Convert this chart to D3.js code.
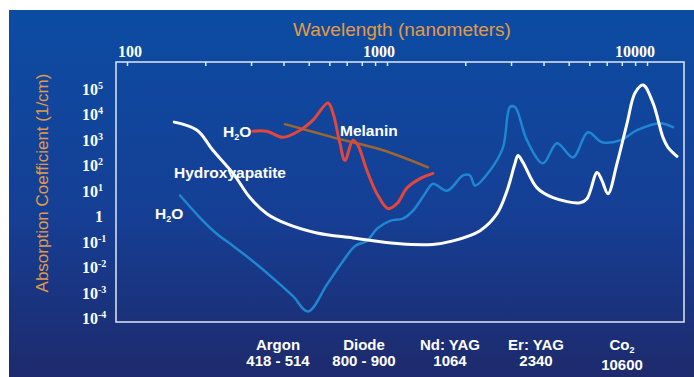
<!DOCTYPE html>
<html>
<head>
<meta charset="utf-8">
<script src="https://cdn.jsdelivr.net/npm/d3@7"></script>
<style>
  body { margin: 0; background: #fff; }
  svg { display: block; }
</style>
</head>
<body>
<script>
// tick labels
const wavelengthLabels = [100, 1000, 10000]
const coefficientTicks = [1e5, 1e4, 1e3, 1e2, 1e1, 1, 1e-1, 1e-2, 1e-3, 1e-4]

// laser names and their wavelengths
const lasers = ['Argon', 'Diode', 'Nd: YAG', 'Er: YAG', 'Co2']
const laserWavelengths = ['418 - 514', '800 - 900', '1064', '2340', '10600']

// [wavelength nm, absorption 1/cm]
const hydroxyapatite = [
  [152, 5000], [186, 2400], [214, 390], [256, 48], [297, 5.4], [345, 1.26],
  [412, 0.5], [538, 0.22], [740, 0.14], [1122, 0.082], [1500, 0.078],
  [1794, 0.107], [2280, 0.27], [2650, 1.26], [2895, 10], [3107, 120],
  [3190, 245], [3335, 130], [3776, 13], [4350, 5.4], [5525, 3.4], [5877, 4.9],
  [6427, 52], [6714, 25], [7080, 7.7], [7670, 120], [8380, 4500],
  [8990, 70000], [9660, 144000], [10550, 28000], [11520, 1260], [12040, 510],
  [13040, 225]
]

const water = [
  [160, 6.5], [191, 0.87], [222, 0.2], [256, 0.068], [305, 0.017],
  [364, 0.0037], [435, 0.00072], [497, 0.00018], [588, 0.0021], [677, 0.017],
  [754, 0.068], [837, 0.107], [915, 0.32], [1027, 0.66], [1152, 0.8],
  [1259, 1.65], [1400, 7.7], [1503, 19], [1702, 10], [1961, 40], [2086, 40],
  [2180, 16], [2490, 63], [2794, 510], [2972, 19500], [3107, 19500],
  [3455, 960], [3981, 120], [4508, 740], [5190, 205], [5930, 2000],
  [6714, 810], [7870, 960], [9160, 2400], [11220, 4500], [12590, 3160]
]

const hemoglobin = [
  [305, 2190], [345, 2190], [398, 1260], [463, 2400], [519, 5960],
  [593, 28000], [620, 11200], [659, 740], [689, 155], [740, 960], [773, 610],
  [837, 63], [915, 7.7], [1009, 2], [1092, 3.1], [1194, 13], [1340, 30],
  [1503, 48]
]

const melanin = [[405, 4150], [620, 1260], [966, 390], [1438, 83]]

const width = 694
const height = 377
const sans = 'Liberation Sans, Arial, sans-serif'
const serif = 'Liberation Serif, Times New Roman, serif'

const svg = d3.select('body').append('svg')
  .attr('width', width)
  .attr('height', height)

const grad = svg.append('defs').append('linearGradient')
  .attr('id', 'bg')
  .attr('x1', 0).attr('y1', 0).attr('x2', 0).attr('y2', 1)
grad.append('stop').attr('offset', '0%').attr('stop-color', '#0c4ca3')
grad.append('stop').attr('offset', '55%').attr('stop-color', '#153f95')
grad.append('stop').attr('offset', '100%').attr('stop-color', '#1e2a6c')

svg.append('rect')
  .attr('x', 9).attr('y', 10)
  .attr('width', width - 9).attr('height', height - 10)
  .attr('fill', 'url(#bg)')

const x = d3.scaleLog().domain([100, 10000]).range([127, 647])
const y = d3.scaleLog().domain([1e-4, 1e5]).range([318, 89])

// frame
svg.append('rect')
  .attr('x', 116).attr('y', 62)
  .attr('width', 568).attr('height', 260)
  .attr('fill', 'none')
  .attr('stroke', '#dfe6f5')
  .attr('stroke-width', 1.5)

// top ticks, pointing in
const topAxis = svg.append('g')
  .attr('transform', 'translate(0,62)')
  .call(d3.axisTop(x).tickValues(x.ticks()).tickSize(-4).tickFormat(''))
topAxis.select('.domain').remove()
topAxis.selectAll('line').attr('stroke', '#dfe6f5').attr('stroke-width', 1.5)

const nudge = [3, -8, -12]
svg.append('g').selectAll('text')
  .data(wavelengthLabels)
  .enter().append('text')
  .attr('x', (d, i) => x(d) + nudge[i])
  .attr('y', 57)
  .attr('text-anchor', 'middle')
  .attr('font-family', serif)
  .attr('font-weight', 'bold')
  .attr('font-size', 16)
  .attr('fill', '#fff')
  .text(d => d)

svg.append('text')
  .attr('x', 402).attr('y', 36)
  .attr('text-anchor', 'middle')
  .attr('font-family', sans)
  .attr('font-size', 19)
  .attr('fill', '#e39a45')
  .text('Wavelength (nanometers)')

svg.append('text')
  .attr('transform', 'translate(48,183) rotate(-90)')
  .attr('text-anchor', 'middle')
  .attr('font-family', sans)
  .attr('font-size', 17)
  .attr('fill', '#e39a45')
  .text('Absorption Coefficient (1/cm)')

// y labels with superscripts
const yl = svg.append('g').selectAll('text')
  .data(coefficientTicks)
  .enter().append('text')
  .attr('x', d => d === 1 ? 99 : 82)
  .attr('y', d => y(d) + 6)
  .attr('text-anchor', d => d === 1 ? 'middle' : 'start')
  .attr('font-family', serif)
  .attr('font-weight', 'bold')
  .attr('font-size', 16)
  .attr('fill', '#fff')
yl.filter(d => d === 1).text('1')
yl.filter(d => d !== 1).each(function (d) {
  const t = d3.select(this)
  t.append('tspan').text('10')
  t.append('tspan')
    .attr('dy', -6)
    .attr('font-size', 10)
    .text(Math.round(Math.log10(d)))
})

// curves
const line = d3.line()
  .x(d => x(d[0]))
  .y(d => y(d[1]))
  .curve(d3.curveCatmullRom.alpha(0.5))

const curves = [
  { data: water, color: '#1f86d2', w: 2.5 },
  { data: hydroxyapatite, color: '#ffffff', w: 3 },
  { data: melanin, color: '#9c6630', w: 2.5 },
  { data: hemoglobin, color: '#e2463c', w: 3 }
]
svg.append('g').selectAll('path')
  .data(curves)
  .enter().append('path')
  .attr('d', d => line(d.data))
  .attr('fill', 'none')
  .attr('stroke', d => d.color)
  .attr('stroke-width', d => d.w)
  .attr('stroke-linecap', 'round')

// curve labels
function label (tx, ty, parts) {
  const t = svg.append('text')
    .attr('x', tx).attr('y', ty)
    .attr('font-family', sans)
    .attr('font-weight', 'bold')
    .attr('font-size', 15.5)
    .attr('fill', '#fff')
  parts.forEach(p => {
    const s = t.append('tspan').text(p[0])
    if (p[1]) s.attr('font-size', 9).attr('dy', 3)
    if (p[2]) s.attr('dy', -3)
  })
  return t
}
label(223, 137, [['H'], ['2', true], ['O', false, true]])
label(340, 136, [['Melanin']])
label(174, 178, [['Hydroxyapatite']])
label(155, 219, [['H'], ['2', true], ['O', false, true]])

// laser names along the bottom
const lx = d3.scalePoint().domain(lasers).range([278, 622])
const lg = svg.append('g')
  .attr('font-family', sans)
  .attr('font-weight', 'bold')
  .attr('font-size', 15)
  .attr('fill', '#fff')
  .attr('text-anchor', 'middle')
lasers.forEach((name, i) => {
  const t = lg.append('text').attr('x', lx(name)).attr('y', 350)
  if (name === 'Co2') {
    t.append('tspan').text('Co')
    t.append('tspan').attr('font-size', 9).attr('dy', 3).text('2')
  } else {
    t.text(name)
  }
  lg.append('text')
    .attr('x', lx(name))
    .attr('y', name === 'Co2' ? 370 : 366)
    .text(laserWavelengths[i])
})
</script>
</body>
</html>
